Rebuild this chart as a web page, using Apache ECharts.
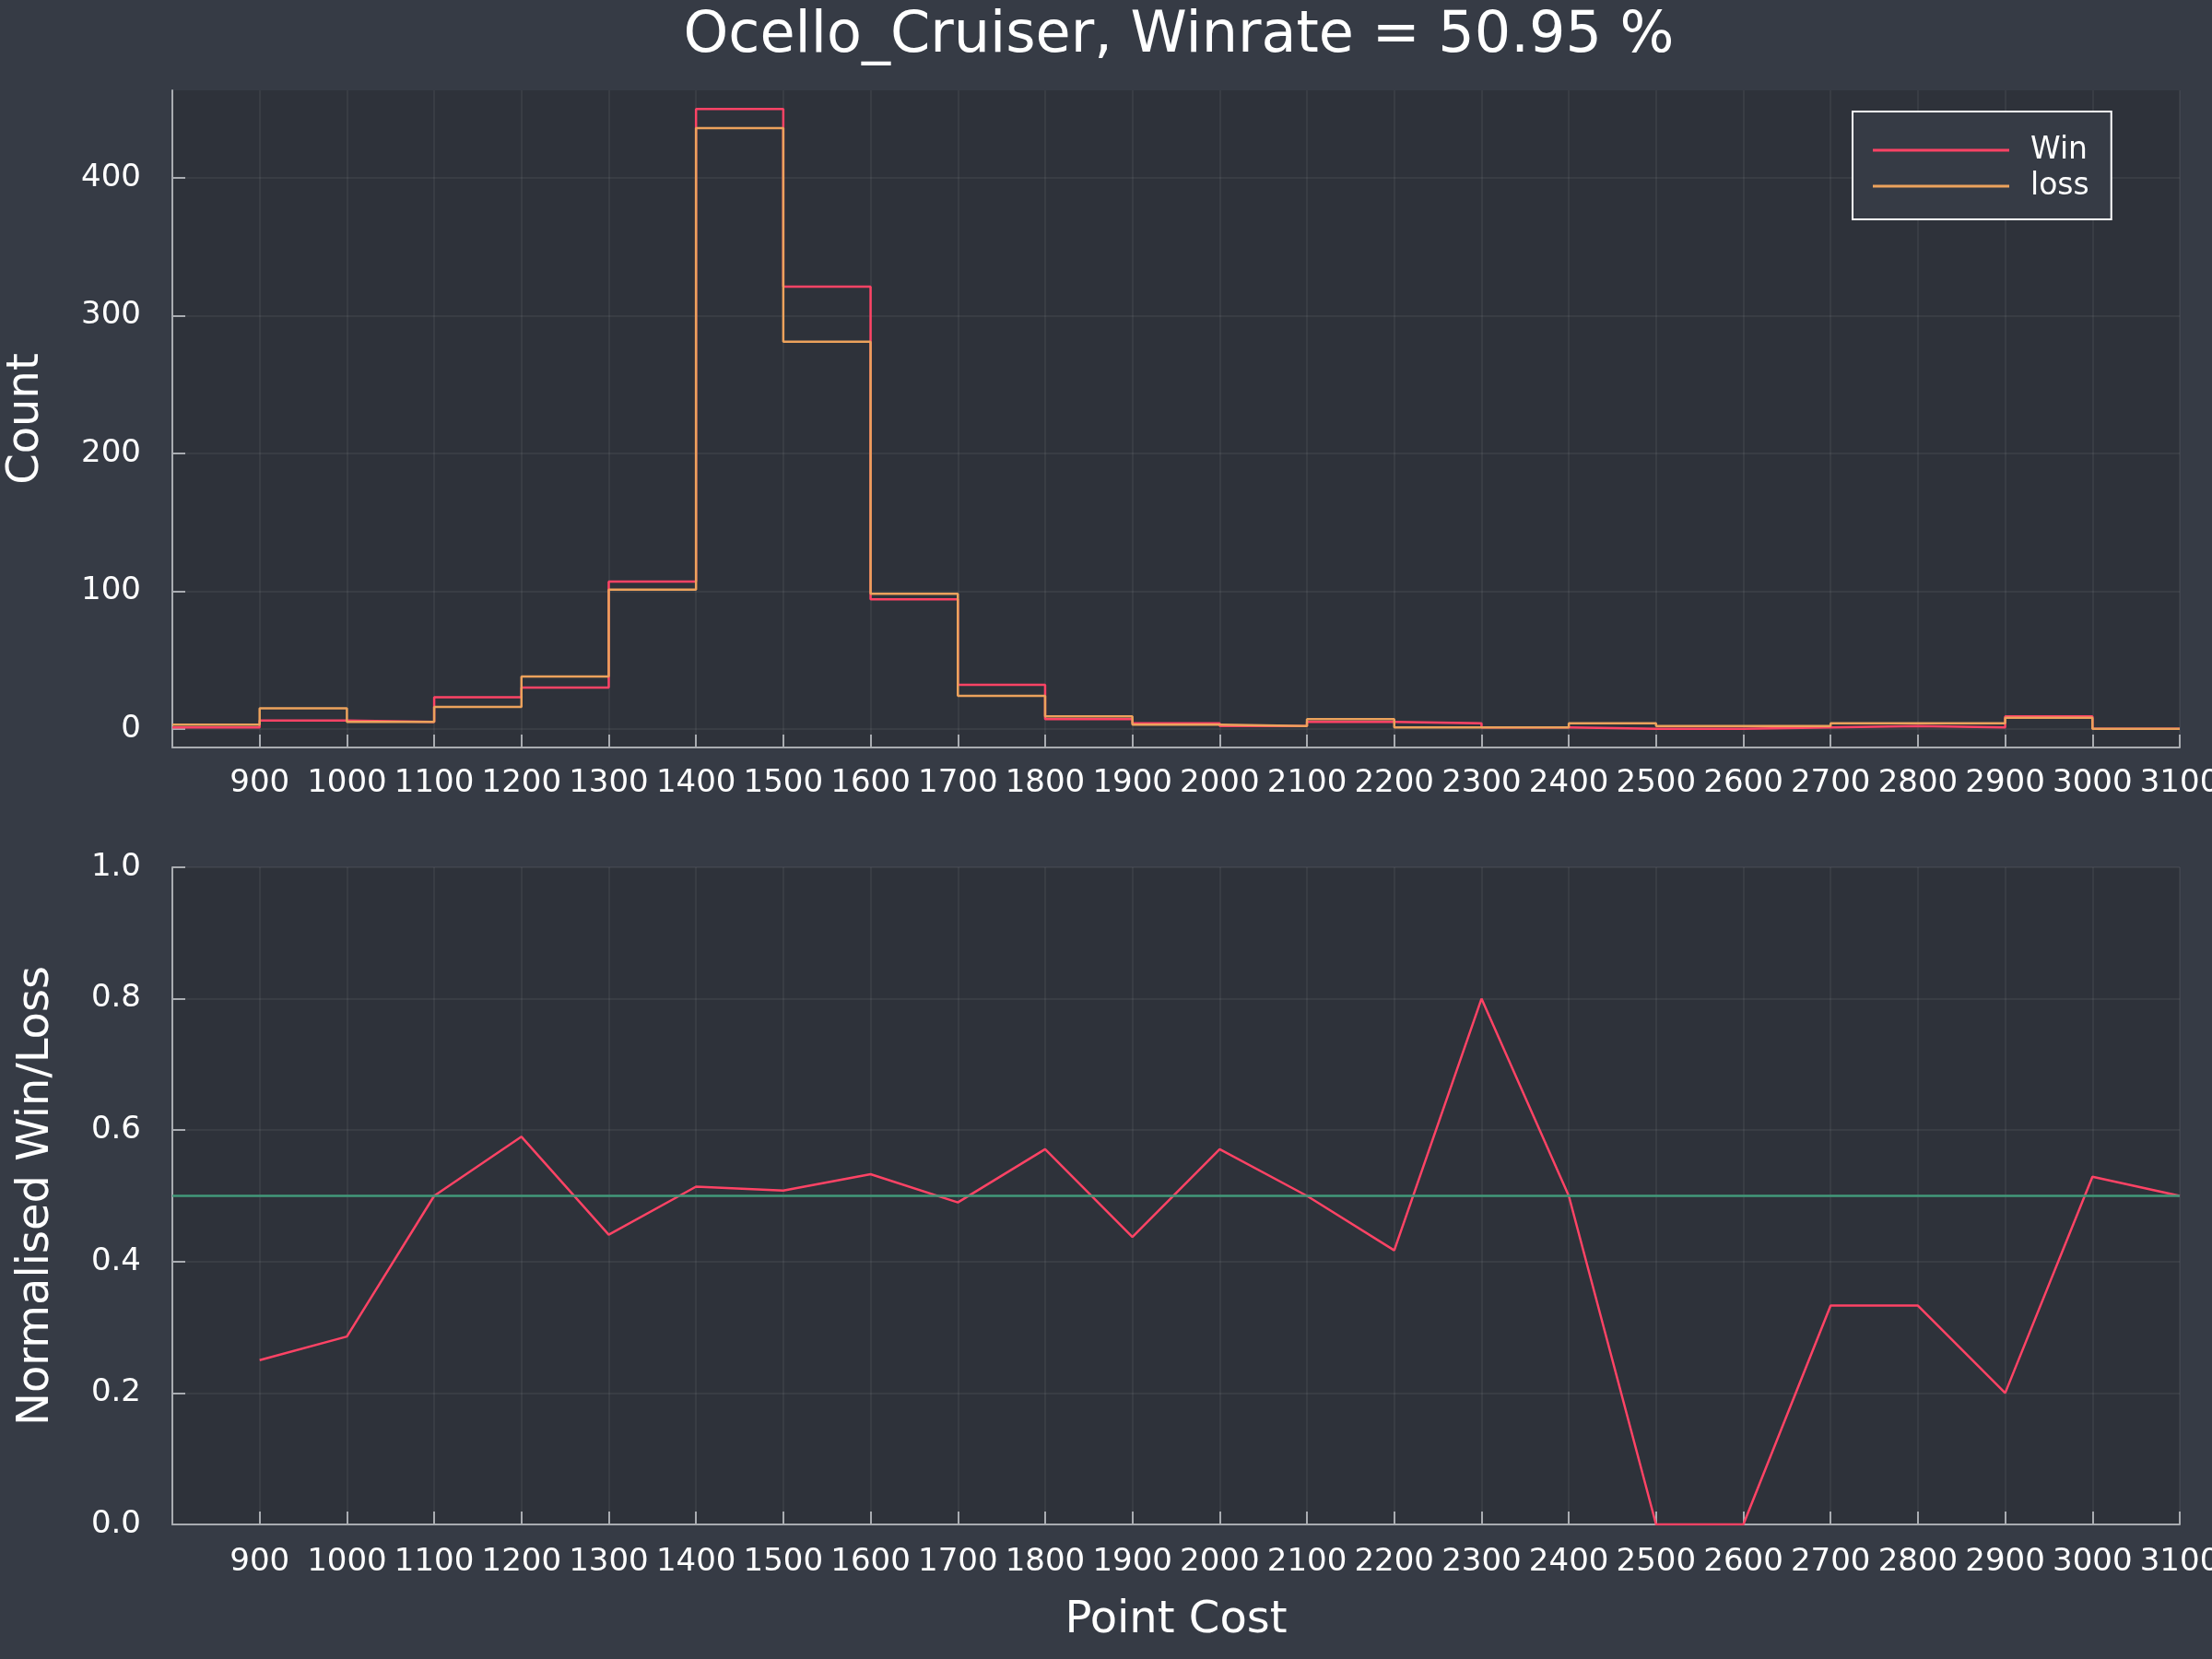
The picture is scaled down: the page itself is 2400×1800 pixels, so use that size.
<!DOCTYPE html>
<html>
<head>
<meta charset="utf-8">
<script src="https://cdn.jsdelivr.net/npm/echarts@6/dist/echarts.min.js"></script>
<style>
html,body{margin:0;padding:0;background:#363b45;}
#chart{width:2400px;height:1800px;}
</style>
</head>
<body>
<div id="chart"></div>
<script>
// ---- data ----
const titleText = 'Ocello_Cruiser, Winrate = 50.95 %';
const binEdges = [800, 900, 1000, 1100, 1200, 1300, 1400, 1500, 1600, 1700, 1800, 1900,
                  2000, 2100, 2200, 2300, 2400, 2500, 2600, 2700, 2800, 2900, 3000, 3100];
const winCounts  = [1, 6, 5, 23, 30, 107, 450, 321, 94, 32, 7, 4, 2, 5, 4, 1, 0, 0, 1, 2, 1, 9, 0];
const lossCounts = [3, 15, 5, 16, 38, 101, 436, 281, 98, 24, 9, 3, 2, 7, 1, 1, 4, 2, 2, 4, 4, 8, 0];
const ratioX = [900, 1000, 1100, 1200, 1300, 1400, 1500, 1600, 1700, 1800, 1900, 2000,
                2100, 2200, 2300, 2400, 2500, 2600, 2700, 2800, 2900, 3000, 3100];
const ratioValues = [0.25, 0.286, 0.5, 0.59, 0.441, 0.514, 0.508, 0.533, 0.49, 0.571, 0.4375, 0.571,
                     0.5, 0.417, 0.8, 0.5, 0, 0, 0.333, 0.333, 0.2, 0.529, 0.5];
const referenceLine = [[800, 0.5], [3100, 0.5]];
const countTicks = [0, 100, 200, 300, 400];
const seriesNames = ['Win', 'loss'];

// ---- style ----
const FONT = 'DejaVu Sans';
const RED = '#fe4365', ORANGE = '#eca25c', GREEN = '#42997a';
const AXIS = '#a9acb1', GRIDC = 'rgba(255,255,255,0.075)', TXT = '#ffffff';
const OUTER = '#363b45', INNER = '#2e323a';

function stepData(values) {
  return binEdges.map((x, i) => [x, values[Math.min(i, values.length - 1)]]);
}

function xAxisCfg(idx, margin, extra) {
  return Object.assign({
    type: 'value', gridIndex: idx, min: 800, max: 3100, interval: 100,
    axisLine: {show: true, onZero: false, lineStyle: {color: AXIS, width: 2}},
    axisTick: {show: true, inside: true, length: 14, lineStyle: {color: AXIS, width: 2}},
    axisLabel: {showMinLabel: false, showMaxLabel: true, hideOverlap: false, color: TXT, fontSize: 34,
                fontFamily: FONT, margin: margin, formatter: v => String(v)},
    splitLine: {show: true, lineStyle: {color: GRIDC, width: 1.5}}
  }, extra || {});
}

const chart = echarts.init(document.getElementById('chart'), null, {renderer: 'canvas'});
chart.setOption({
  backgroundColor: OUTER,
  animation: false,
  title: {
    text: titleText, left: 1274, top: 4, textAlign: 'center',
    textStyle: {color: TXT, fontSize: 62, fontWeight: 'normal', fontFamily: FONT}
  },
  legend: {
    data: seriesNames, orient: 'vertical', left: 2010, top: 121,
    icon: 'rect', itemWidth: 148, itemHeight: 3, itemGap: 5,
    padding: [25, 24, 19, 22],
    backgroundColor: OUTER, borderColor: '#ffffff', borderWidth: 2, borderRadius: 0,
    textStyle: {color: TXT, fontSize: 33, fontFamily: FONT, lineHeight: 34, padding: [0, 0, 0, 18]}
  },
  grid: [
    {left: 187, right: 35, top: 98, height: 713, show: true, backgroundColor: INNER, borderWidth: 0,
     containLabel: false, outerBoundsMode: 'none'},
    {left: 187, right: 35, top: 941, height: 713, show: true, backgroundColor: INNER, borderWidth: 0,
     containLabel: false, outerBoundsMode: 'none'}
  ],
  xAxis: [
    xAxisCfg(0, 22),
    xAxisCfg(1, 24, {name: 'Point Cost', nameLocation: 'middle', nameGap: 81,
      nameTextStyle: {color: TXT, fontSize: 48, fontFamily: FONT}})
  ],
  yAxis: [
    {
      type: 'value', gridIndex: 0, min: -13.5, max: 463.5,
      name: 'Count', nameLocation: 'middle', nameGap: 134, nameRotate: 90,
      nameTextStyle: {color: TXT, fontSize: 48, fontFamily: FONT},
      axisLine: {show: true, onZero: false, lineStyle: {color: AXIS, width: 2}},
      axisTick: {show: true, inside: true, length: 14, customValues: countTicks, lineStyle: {color: AXIS, width: 2}},
      axisLabel: {customValues: countTicks, color: TXT, fontSize: 34, fontFamily: FONT, margin: 34},
      splitLine: {show: true, lineStyle: {color: GRIDC, width: 1.5}}
    },
    {
      type: 'value', gridIndex: 1, min: 0, max: 1, interval: 0.2,
      name: 'Normalised Win/Loss', nameLocation: 'middle', nameGap: 123, nameRotate: 90,
      nameTextStyle: {color: TXT, fontSize: 48, fontFamily: FONT},
      axisLine: {show: true, onZero: false, lineStyle: {color: AXIS, width: 2}},
      axisTick: {show: true, inside: true, length: 14, lineStyle: {color: AXIS, width: 2}},
      axisLabel: {color: TXT, fontSize: 34, fontFamily: FONT, margin: 34, formatter: v => v.toFixed(1)},
      splitLine: {show: true, lineStyle: {color: GRIDC, width: 1.5}}
    }
  ],
  series: [
    {name: 'Win', type: 'line', xAxisIndex: 0, yAxisIndex: 0, step: 'end', symbol: 'none',
     color: RED, lineStyle: {color: RED, width: 2.5}, data: stepData(winCounts)},
    {name: 'loss', type: 'line', xAxisIndex: 0, yAxisIndex: 0, step: 'end', symbol: 'none',
     color: ORANGE, lineStyle: {color: ORANGE, width: 2.5}, data: stepData(lossCounts)},
    {name: 'ratio', type: 'line', xAxisIndex: 1, yAxisIndex: 1, symbol: 'none',
     color: RED, lineStyle: {color: RED, width: 2.5},
     data: ratioX.map((x, i) => [x, ratioValues[i]])},
    {name: 'even', type: 'line', xAxisIndex: 1, yAxisIndex: 1, symbol: 'none',
     color: GREEN, lineStyle: {color: GREEN, width: 2.5}, data: referenceLine}
  ]
});
</script>
</body>
</html>
